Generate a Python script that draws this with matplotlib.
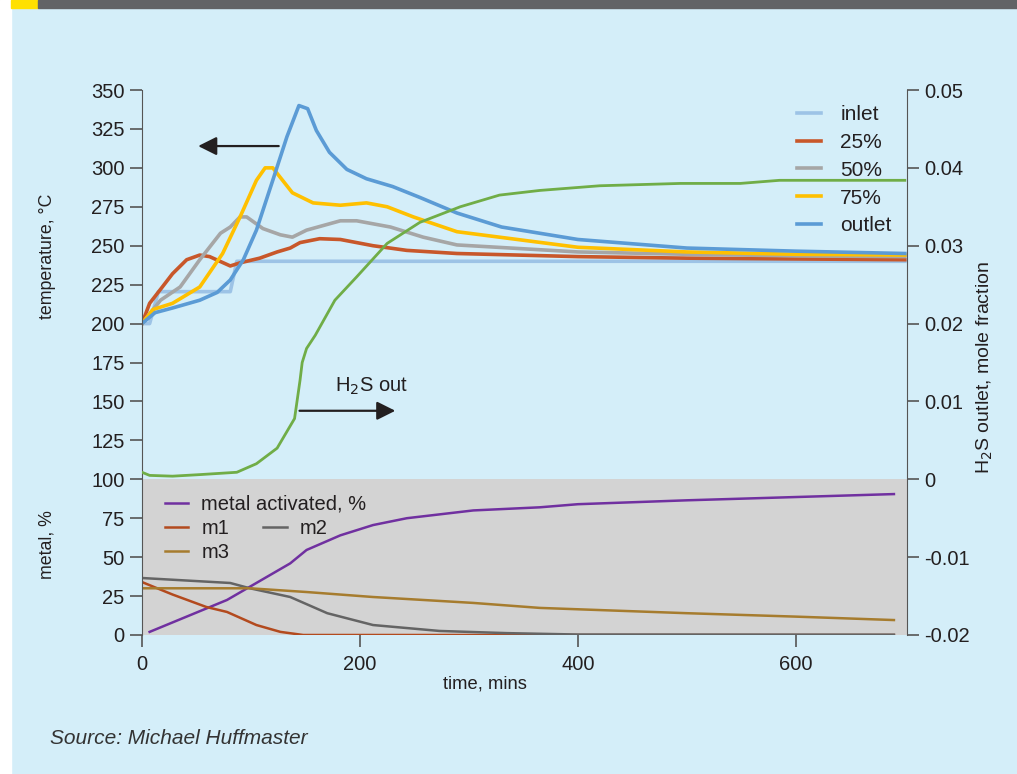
import matplotlib
matplotlib.use("Agg")
import matplotlib.pyplot as plt
from matplotlib.patches import Rectangle

plt.rcParams['font.family'] = ['Liberation Sans', 'DejaVu Sans']

# temperature profiles, deg C
t_inlet = [0, 7, 15, 81, 87, 700]
inlet = [200, 200, 220.5, 220.5, 240, 240]

t_25 = [0, 7, 17, 28, 41, 53, 62, 81, 90, 108, 124, 136, 145, 163, 182, 212, 243, 289, 400, 500, 600, 700]
p25 = [200, 213, 222, 232, 241, 244, 243, 237, 239, 242, 246, 248.5, 252, 254.5, 254, 250, 247, 245, 243, 242, 241.5, 241]

t_50 = [0, 17, 35, 53, 72, 81, 90, 96, 111, 127, 138, 151, 182, 197, 228, 258, 289, 400, 500, 600, 700]
p50 = [200, 215, 223.5, 241, 258, 262, 268.5, 268.5, 261, 257, 255.5, 260, 266, 266, 262, 255.5, 250.5, 246, 244.5, 243.5, 243]

t_75 = [0, 10, 28, 53, 74, 90, 105, 113, 120, 138, 157, 182, 206, 225, 249, 289, 400, 500, 600, 700]
p75 = [200, 209, 213, 223.5, 245, 268.5, 292, 300, 300, 284, 277.5, 276, 277.5, 275, 268.5, 259, 249, 246, 244.5, 244]

t_out = [0, 12, 28, 53, 69, 81, 93, 105, 120, 133, 144, 152, 160, 172, 188, 206, 230, 255, 289, 330, 400, 500, 600, 700]
outlet = [200, 207, 210, 215, 220, 228, 241, 260, 292, 320, 340, 338, 324, 310, 299, 293, 288, 281, 271, 262, 254, 248.5, 246.5, 245]

# H2S outlet, mole fraction
t_h2s = [0, 7, 28, 53, 87, 105, 124, 140, 145, 147, 151, 159, 177, 197, 225, 255, 292, 328, 365, 420, 494, 549, 585, 700]
h2s = [0.0009, 0.0005, 0.0004, 0.0006, 0.0009, 0.002, 0.004, 0.0078, 0.0127, 0.015, 0.0168, 0.0185, 0.023, 0.026,
       0.0303, 0.033, 0.035, 0.0365, 0.0371, 0.0377, 0.038, 0.038, 0.0384, 0.0384]

# metal, %
t_act = [7, 78, 99, 136, 151, 182, 212, 243, 304, 365, 400, 500, 600, 690]
activated = [2, 22.5, 31, 46, 54.6, 64, 70.6, 75, 80, 82, 84, 86.5, 88.6, 90.5]
t_m1 = [0, 28, 59, 78, 105, 127, 148, 690]
m1 = [34, 26, 18, 14.8, 6.4, 2, 0, 0]
t_m2 = [0, 81, 99, 136, 170, 212, 273, 335, 400, 690]
m2 = [36.6, 33.4, 30, 24.4, 14, 6.4, 2.6, 1.2, 0.3, 0.2]
t_m3 = [0, 99, 151, 212, 304, 365, 500, 600, 690]
m3 = [30, 30, 27.6, 24.4, 20.6, 17.4, 14, 11.8, 9.6]

bg = '#d4eef9'
txt = '#231f20'
axc = '#555555'
tick_fs = 14.5

fig = plt.figure(figsize=(10.17, 7.74), dpi=100, facecolor=bg)
fig.patches.append(Rectangle((0, 0), 11 / 1017, 1, transform=fig.transFigure, color='white', zorder=0))
fig.patches.append(Rectangle((11 / 1017, 1 - 8 / 774), 27 / 1017, 8 / 774, transform=fig.transFigure, color='#ffe000', zorder=1))
fig.patches.append(Rectangle((38 / 1017, 1 - 8 / 774), 1, 8 / 774, transform=fig.transFigure, color='#626366', zorder=1))

ax = fig.add_axes([142 / 1017, 139 / 774, 765 / 1017, 545 / 774])
ax.set_facecolor('none')
ax.axhspan(0, 100, color='#d3d3d3', zorder=0, lw=0)

lw = 2.6
ax.plot(t_inlet, inlet, color='#9dc3e6', lw=lw, label='inlet')
ax.plot(t_25, p25, color='#c8572a', lw=lw, label='25%')
ax.plot(t_50, p50, color='#a6a6a6', lw=lw, label='50%')
ax.plot(t_75, p75, color='#ffc000', lw=lw, label='75%')
ax.plot(t_out, outlet, color='#5b9bd5', lw=lw, label='outlet')

l_act, = ax.plot(t_act, activated, color='#7030a0', lw=1.8, label='metal activated, %')
l_m1, = ax.plot(t_m1, m1, color='#b34a1e', lw=1.8, label='m1')
l_m2, = ax.plot(t_m2, m2, color='#646464', lw=1.8, label='m2')
l_m3, = ax.plot(t_m3, m3, color='#a67c2e', lw=1.8, label='m3')

ax.set_xlim(0, 702)
ax.set_ylim(0, 350)
ax.set_yticks(range(0, 351, 25))
ax.set_xticks([0, 200, 400, 600])
for s in ['top', 'bottom', 'right']:
    ax.spines[s].set_visible(False)
ax.spines['left'].set_color(axc)
ax.tick_params(colors=axc, labelcolor=txt, labelsize=tick_fs, length=8.5, width=1.2)
ax.tick_params(axis='y', pad=4)
ax.tick_params(axis='x', pad=6)
fig.text(47 / 1017, 1 - 256 / 774, 'temperature, °C', rotation=90, ha='center', va='center', fontsize=12.8, color=txt)
fig.text(47 / 1017, 1 - 545 / 774, 'metal, %', rotation=90, ha='center', va='center', fontsize=12.8, color=txt)
fig.text(485 / 1017, 1 - 684 / 774, 'time, mins', ha='center', va='center', fontsize=13.2, color=txt)

ax2 = ax.twinx()
ax2.set_facecolor('none')
ax2.plot(t_h2s, h2s, color='#70ad47', lw=2)
ax2.set_ylim(-0.02, 0.05)
ax2.set_yticks([-0.02, -0.01, 0, 0.01, 0.02, 0.03, 0.04, 0.05])
ax2.set_yticklabels(['-0.02', '-0.01', '0', '0.01', '0.02', '0.03', '0.04', '0.05'])
for s in ['top', 'bottom', 'left']:
    ax2.spines[s].set_visible(False)
ax2.spines['right'].set_color(axc)
ax2.tick_params(colors=axc, labelcolor=txt, labelsize=tick_fs, length=8.5, width=1.2, pad=4)
fig.text(985 / 1017, 1 - 368 / 774, 'H$_2$S outlet, mole fraction', rotation=90, ha='center', va='center',
         fontsize=14, color=txt)

# arrows
ax.annotate('', xy=(49, 314), xytext=(128, 314),
            arrowprops=dict(arrowstyle='-|>', color=txt, lw=1.6, mutation_scale=28))
ax.annotate('', xy=(235, 144), xytext=(142, 144),
            arrowprops=dict(arrowstyle='-|>', color=txt, lw=1.6, mutation_scale=28))
ax.text(177, 160, 'H$_2$S out', ha='left', va='center', fontsize=14.5, color=txt)

# legends
leg1 = ax.legend(handles=ax.get_lines()[:5], loc='upper right', bbox_to_anchor=(0.98, 0.972), frameon=False,
                 fontsize=15, labelspacing=0.42, handlelength=1.15, handletextpad=0.95, borderpad=0, borderaxespad=0,
                 labelcolor=txt)
ax.add_artist(leg1)
leg2 = ax.legend(handles=[l_act], loc='upper left', bbox_to_anchor=(0.03, 0.257), frameon=False,
                 fontsize=14.5, handlelength=1.15, handletextpad=0.65, borderpad=0, borderaxespad=0, labelcolor=txt)
ax.add_artist(leg2)
ax.legend(handles=[l_m1, l_m3, l_m2], ncol=2, loc='upper left', bbox_to_anchor=(0.03, 0.213), frameon=False,
          fontsize=14.5, handlelength=1.15, handletextpad=0.65, labelspacing=0.25, columnspacing=1.7,
          borderpad=0, borderaxespad=0, labelcolor=txt)

fig.text(50 / 1017, 1 - 738 / 774, 'Source: Michael Huffmaster', style='italic', ha='left', va='center',
         fontsize=15, color='#333333')

fig.savefig('out.png', dpi=100, facecolor=bg)
